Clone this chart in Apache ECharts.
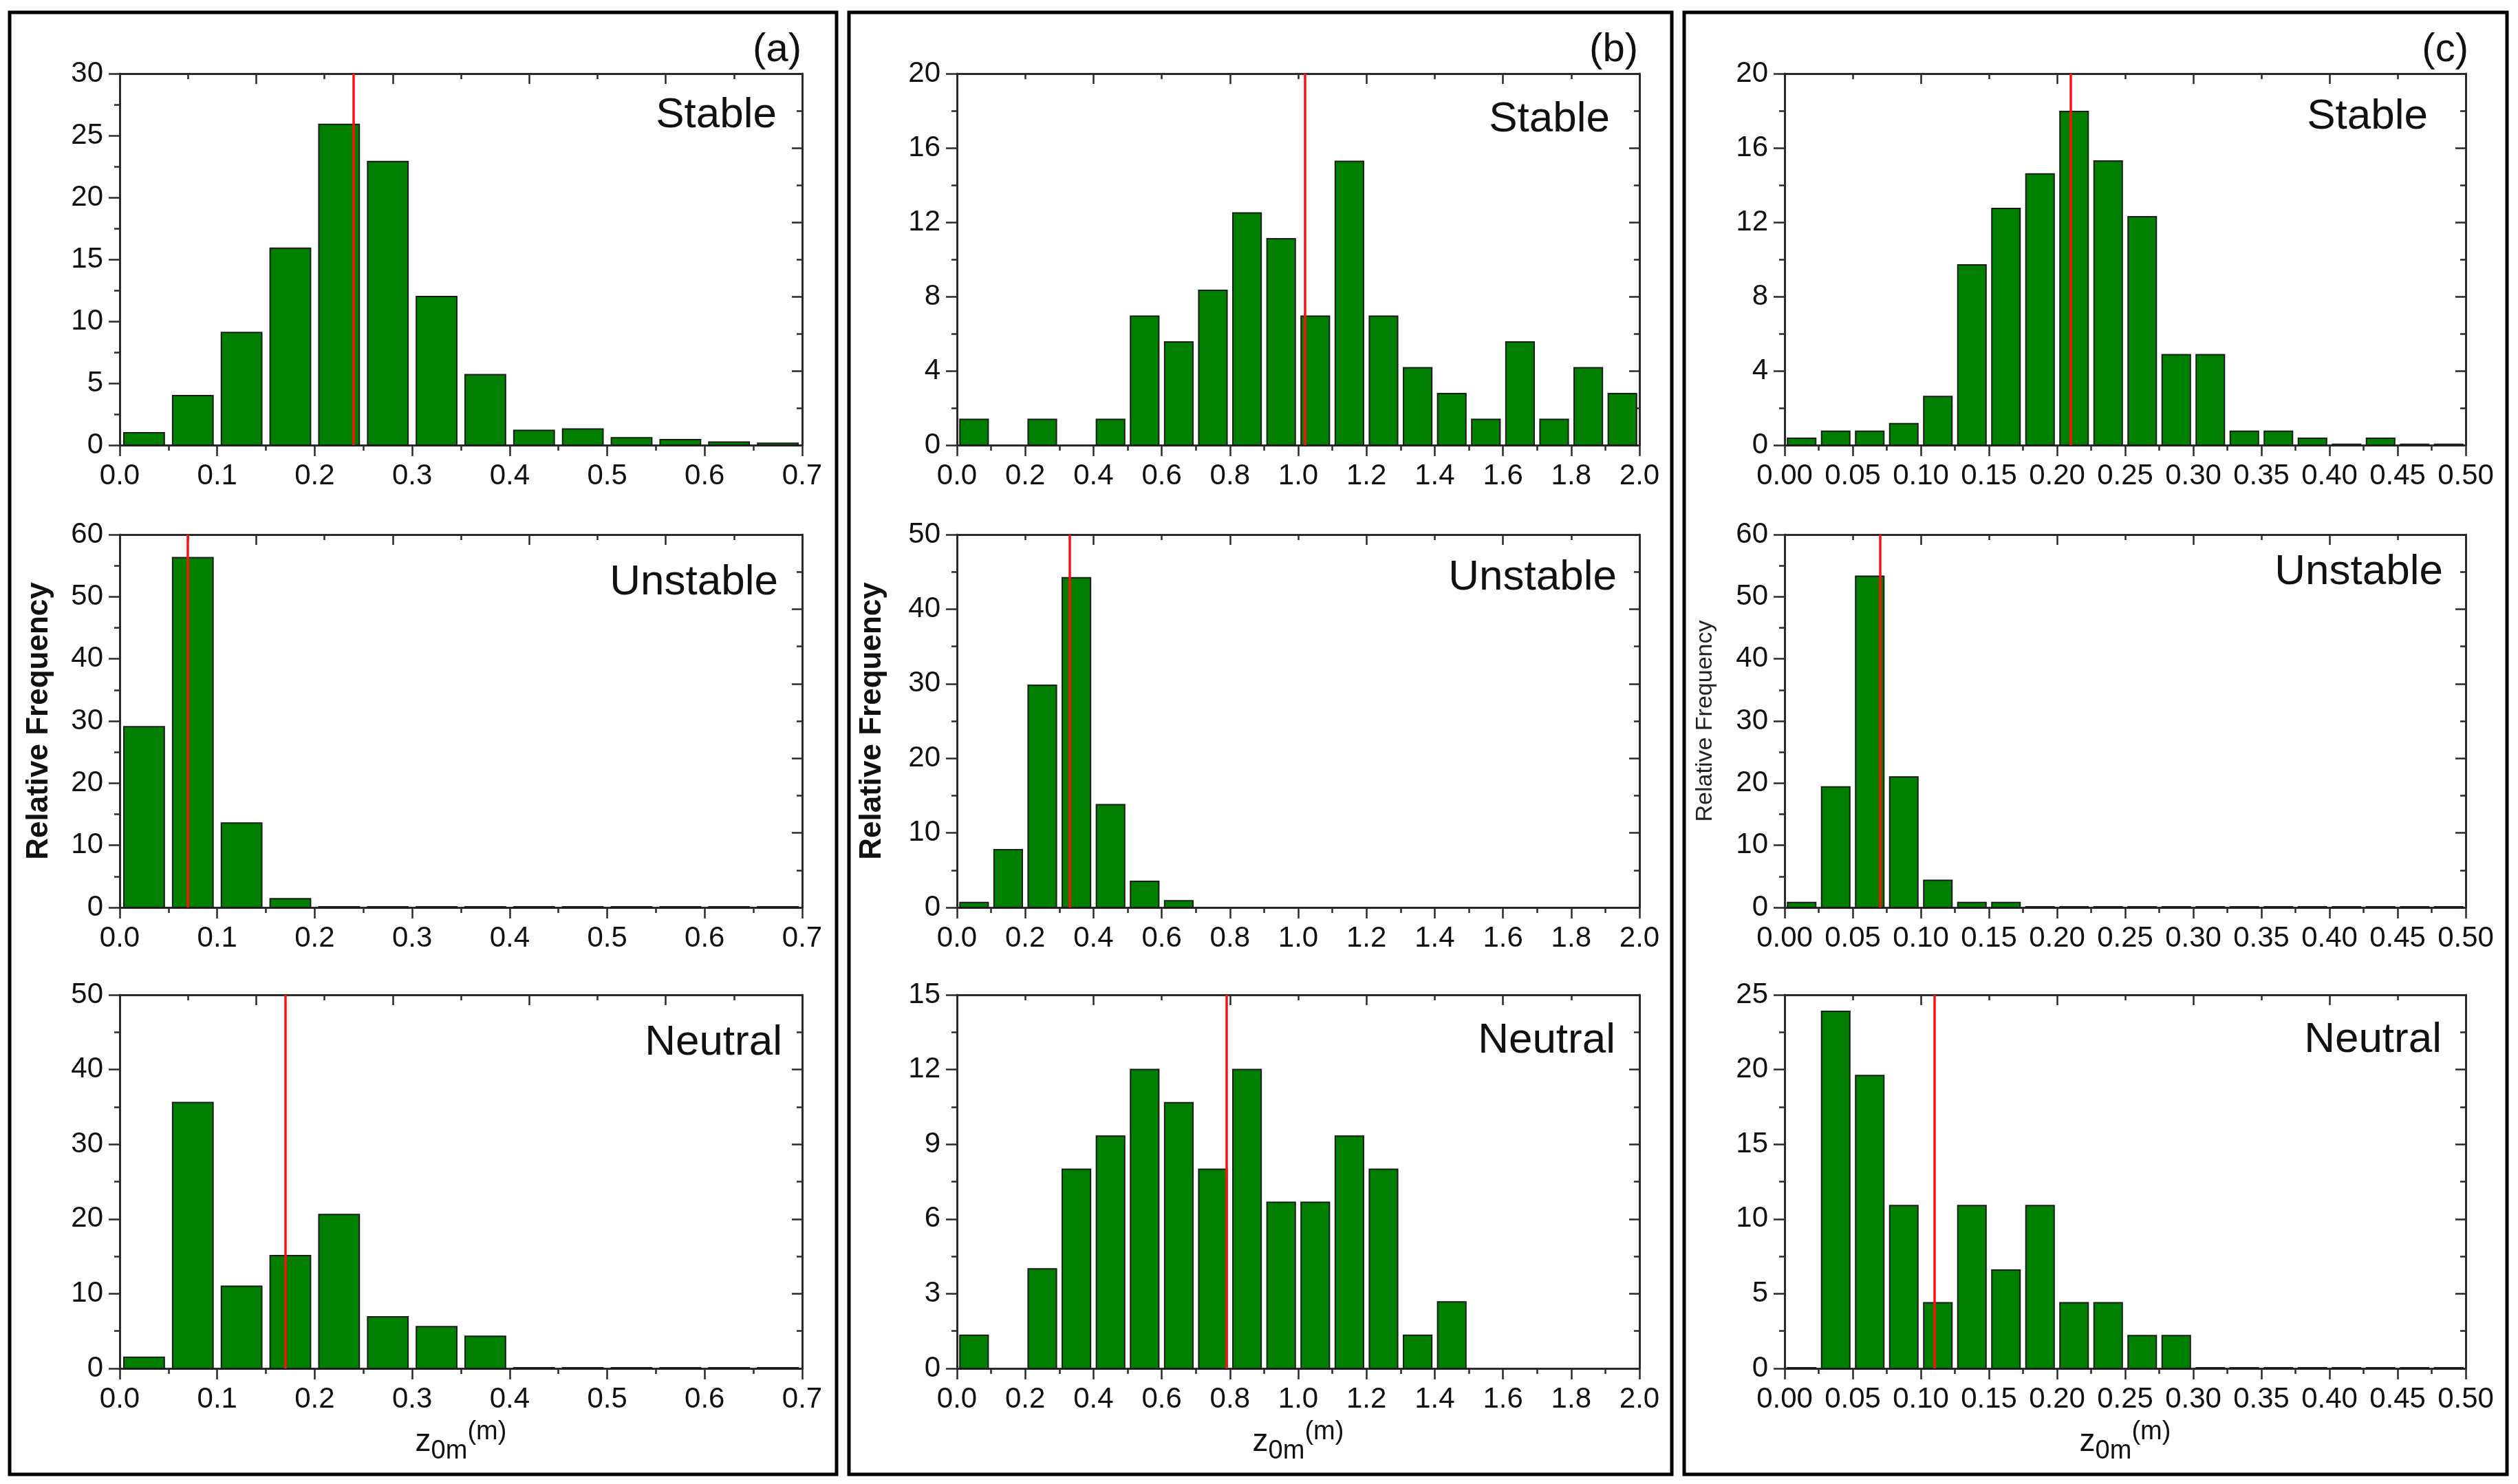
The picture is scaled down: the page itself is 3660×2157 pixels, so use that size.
<!DOCTYPE html>
<html><head><meta charset="utf-8">
<script src="https://cdn.jsdelivr.net/npm/echarts@6/dist/echarts.min.js"></script>
<style>html,body{margin:0;padding:0;background:#fff}#chart{width:3660px;height:2157px}</style>
</head><body><div id="chart"></div>
<script>
// ---------------- DATA ----------------
const conditions = ['Stable', 'Unstable', 'Neutral'];
const panelTags = ['(a)', '(b)', '(c)'];
// bin widths and x ranges per column
const binWidths = [0.05, 0.1, 0.025];
const xMaxes = [0.7, 2.0, 0.5];
const xSteps = [0.1, 0.2, 0.05];
const xDecimals = [1, 1, 2];
// y ranges per column (rows: Stable, Unstable, Neutral)
const aYMax = [30, 60, 50], aYStep = [5, 10, 10];
const bYMax = [20, 50, 15], bYStep = [4, 10, 3];
const cYMax = [20, 60, 25], cYStep = [4, 10, 5];
// relative frequency per bin
const aStable   = [1.0, 4.0, 9.1, 15.9, 25.9, 22.9, 12.0, 5.7, 1.2, 1.3, 0.6, 0.45, 0.25, 0.15];
const aUnstable = [29.1, 56.3, 13.6, 1.4, 0.1, 0.1, 0.1, 0.1, 0.1, 0.1, 0.1, 0.1, 0.1, 0.1];
const aNeutral  = [1.5, 35.6, 11.0, 15.1, 20.6, 6.9, 5.6, 4.3, 0.1, 0.1, 0.1, 0.1, 0.1, 0.1];
const bStable   = [1.39, 0, 1.39, 0, 1.39, 6.94, 5.56, 8.33, 12.5, 11.11, 6.94, 15.28, 6.94, 4.17, 2.78, 1.39, 5.56, 1.39, 4.17, 2.78];
const bUnstable = [0.66, 7.76, 29.8, 44.2, 13.8, 3.5, 0.9, 0, 0, 0, 0, 0, 0, 0, 0, 0, 0, 0, 0, 0];
const bNeutral  = [1.33, 0, 4.0, 8.0, 9.33, 12.0, 10.67, 8.0, 12.0, 6.67, 6.67, 9.33, 8.0, 1.33, 2.67, 0, 0, 0, 0, 0];
const cStable   = [0.37, 0.75, 0.75, 1.16, 2.62, 9.7, 12.74, 14.6, 17.96, 15.3, 12.3, 4.87, 4.87, 0.75, 0.75, 0.37, 0.05, 0.37, 0.05, 0.05];
const cUnstable = [0.8, 19.4, 53.3, 21.0, 4.36, 0.8, 0.8, 0.1, 0.1, 0.1, 0.1, 0.1, 0.1, 0.1, 0.1, 0.1, 0.1, 0.1, 0.1, 0.1];
const cNeutral  = [0.05, 23.9, 19.6, 10.9, 4.4, 10.9, 6.58, 10.9, 4.4, 4.4, 2.2, 2.2, 0.05, 0.05, 0.05, 0.05, 0.05, 0.05, 0.05, 0.05];
// mean z0m (red vertical lines)
const aMeans = [0.236, 0.068, 0.167];
const bMeans = [1.021, 0.327, 0.79];
const cMeans = [0.215, 0.067, 0.114];

// ---------------- LAYOUT / STYLE ----------------
const FONT = '"Liberation Sans", Arial, sans-serif';
const AX = '#2a2a2a';
const cols = [{left: 174, width: 992}, {left: 1391, width: 992}, {left: 2594, width: 990}];
const rows = [{top: 107, height: 540}, {top: 777, height: 542}, {top: 1446, height: 543}];
const frames = [{x: 14, w: 1202}, {x: 1234, w: 1196}, {x: 2448, w: 1196}];
const tagRight = [1165, 2381, 3588];
const condPos = [
  [[1129, 168], [1131, 847], [1137, 1516]],
  [[2340, 174], [2350, 840], [2348, 1513]],
  [[3529, 170], [3551, 832], [3549, 1512]]
];
const yLabelGap = [95, 101, 98];

const values = [[aStable, aUnstable, aNeutral], [bStable, bUnstable, bNeutral], [cStable, cUnstable, cNeutral]];
const means = [aMeans, bMeans, cMeans];
const yMaxes = [aYMax, bYMax, cYMax];
const ySteps = [aYStep, bYStep, cYStep];

const grid = [], xAxis = [], yAxis = [], series = [], graphic = [];
const tickLine = {color: AX, width: 2.5};

for (let c = 0; c < 3; c++) {
  for (let r = 0; r < 3; r++) {
    const k = c * 3 + r;
    grid.push({left: cols[c].left, width: cols[c].width, top: rows[r].top, height: rows[r].height, outerBoundsMode: 'none', containLabel: false});
    const xMax = xMaxes[c], yMax = yMaxes[c][r];
    const dec = xDecimals[c];
    const bottomX = {
      gridIndex: k, type: 'value', position: 'bottom', min: 0, max: xMax, interval: xSteps[c],
      axisLine: {show: true, onZero: false, lineStyle: {color: AX, width: 3}},
      axisTick: {show: true, length: 16, lineStyle: tickLine},
      minorTick: {show: true, splitNumber: 2, length: 8, lineStyle: tickLine},
      splitLine: {show: false}, minorSplitLine: {show: false},
      axisLabel: {fontSize: 42, color: '#111', fontFamily: FONT, margin: 24, hideOverlap: false,
        formatter: v => v.toFixed(dec)}
    };
    if (r === 2) {
      bottomX.name = '{z|z}{s|0m}{p|(m)}';
      bottomX.nameLocation = 'middle';
      bottomX.nameGap = 74;
      bottomX.nameTextStyle = {
        color: '#111', fontFamily: FONT,
        rich: {
          z: {fontSize: 46, lineHeight: 66, verticalAlign: 'middle', fontFamily: FONT, color: '#111'},
          s: {fontSize: 38, lineHeight: 30, verticalAlign: 'bottom', fontFamily: FONT, color: '#111'},
          p: {fontSize: 38, lineHeight: 60, verticalAlign: 'top', fontFamily: FONT, color: '#111'}
        }
      };
    }
    xAxis.push(bottomX);
    xAxis.push({
      gridIndex: k, type: 'value', position: 'top', min: 0, max: xMax, interval: xMax / 5,
      axisLine: {show: true, onZero: false, lineStyle: {color: AX, width: 3}},
      axisTick: {show: true, inside: true, length: 15, lineStyle: tickLine},
      minorTick: {show: true, splitNumber: 2, length: 8, lineStyle: tickLine},
      splitLine: {show: false}, minorSplitLine: {show: false},
      axisLabel: {show: false}
    });
    const leftY = {
      gridIndex: k, type: 'value', position: 'left', min: 0, max: yMax, interval: ySteps[c][r],
      axisLine: {show: true, onZero: false, lineStyle: {color: AX, width: 3}},
      axisTick: {show: true, length: 16, lineStyle: tickLine},
      minorTick: {show: true, splitNumber: 2, length: 8, lineStyle: tickLine},
      splitLine: {show: false}, minorSplitLine: {show: false},
      axisLabel: {fontSize: 42, color: '#111', fontFamily: FONT, margin: 24, hideOverlap: false}
    };
    if (r === 1) {
      leftY.name = 'Relative Frequency';
      leftY.nameLocation = 'middle';
      leftY.nameRotate = 90;
      leftY.nameGap = yLabelGap[c];
      leftY.nameTextStyle = c === 2
        ? {fontSize: 34, fontWeight: 'normal', color: '#222', fontFamily: FONT}
        : {fontSize: 44, fontWeight: 'bold', color: '#111', fontFamily: FONT};
    }
    yAxis.push(leftY);
    yAxis.push({
      gridIndex: k, type: 'value', position: 'right', min: 0, max: yMax, interval: yMax / 5,
      axisLine: {show: true, onZero: false, lineStyle: {color: AX, width: 3}},
      axisTick: {show: true, inside: true, length: 15, lineStyle: tickLine},
      minorTick: {show: true, splitNumber: 2, length: 8, lineStyle: tickLine},
      splitLine: {show: false}, minorSplitLine: {show: false},
      axisLabel: {show: false}
    });

    const bw = binWidths[c];
    const data = values[c][r].map((v, i) => [i * bw, (i + 1) * bw, v]);
    series.push({
      type: 'custom', xAxisIndex: 2 * k, yAxisIndex: 2 * k,
      encode: {x: [0, 1], y: 2},
      data: data,
      clip: false,
      renderItem: function (params, api) {
        const s = api.value(0), e = api.value(1), v = api.value(2);
        if (!(v > 0)) return null;
        const pad = (e - s) * 0.085;
        const p0 = api.coord([s + pad, v]);
        const p1 = api.coord([e - pad, 0]);
        return {
          type: 'rect',
          shape: {x: p0[0], y: p0[1], width: p1[0] - p0[0], height: Math.max(p1[1] - p0[1], 1)},
          style: {fill: '#007f00', stroke: '#1c1c1c', lineWidth: 2}
        };
      },
      markLine: {
        silent: true, symbol: 'none', animation: false,
        label: {show: false},
        lineStyle: {color: '#ff1010', width: 3.5, type: 'solid'},
        data: [{xAxis: means[c][r]}]
      },
      animation: false
    });

    graphic.push({
      type: 'text', x: condPos[c][r][0], y: condPos[c][r][1], z: 100,
      style: {text: conditions[r], fill: '#111', font: '62px ' + FONT,
        align: 'right', verticalAlign: 'middle', textAlign: 'right', textVerticalAlign: 'middle'}
    });
  }
  graphic.push({
    type: 'rect', z: 100,
    shape: {x: frames[c].x, y: 18, width: frames[c].w, height: 2125},
    style: {fill: 'none', stroke: '#000', lineWidth: 5}
  });
  graphic.push({
    type: 'text', x: tagRight[c], y: 73, z: 100,
    style: {text: panelTags[c], fill: '#111', font: '58px ' + FONT,
      align: 'right', verticalAlign: 'middle', textAlign: 'right', textVerticalAlign: 'middle'}
  });
}

const chart = echarts.init(document.getElementById('chart'), null, {renderer: 'canvas'});
chart.setOption({
  backgroundColor: '#ffffff',
  animation: false,
  grid, xAxis, yAxis, series, graphic
});
</script>
</body></html>
